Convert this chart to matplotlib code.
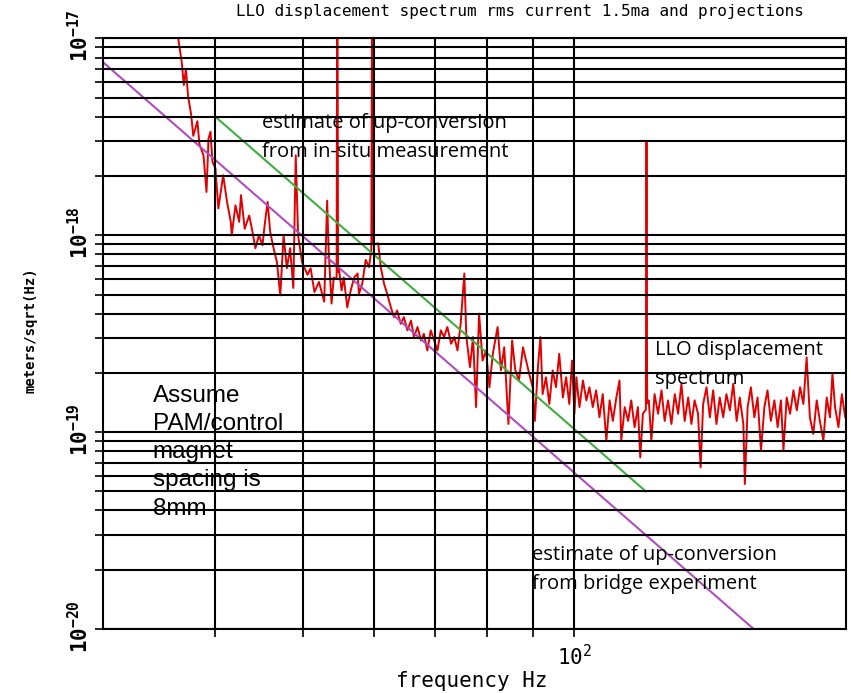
import matplotlib
matplotlib.use("Agg")
import numpy as np
import matplotlib.pyplot as plt
import matplotlib.transforms as mtransforms
from matplotlib.ticker import FixedLocator, FixedFormatter, LogLocator, NullFormatter

plt.rcParams.update({
    "mathtext.fontset": "custom",
    "mathtext.rm": "DejaVu Sans Mono",
    "mathtext.bf": "DejaVu Sans Mono:bold",
    "mathtext.it": "DejaVu Sans Mono:italic",
})

# LLO displacement spectrum (Hz, m/sqrt(Hz))
low_f = [36.2, 36.4, 36.7, 36.9, 37.1, 37.3, 37.6, 37.8, 38.2, 38.4, 38.8, 39.1,
         39.3, 39.5, 39.7, 40.0, 40.3, 40.8, 41.2, 41.6, 41.7, 42.1, 42.5, 42.7,
         43.1, 43.6, 43.9, 44.3, 44.7, 45.1, 45.4, 45.7, 46.0, 46.4, 46.8, 47.2,
         47.6, 48.0, 48.4, 48.8, 49.1, 49.4, 49.9, 50.6, 51.0, 51.5, 52.1, 52.8]
low_asd = [2.0e-17, 9.8e-18, 7.6e-18, 5.8e-18, 7.0e-18, 5.1e-18, 4.1e-18, 3.2e-18,
           3.8e-18, 2.9e-18, 2.55e-18, 1.66e-18, 3.1e-18, 3.36e-18, 2.36e-18, 2.19e-18,
           1.37e-18, 2.02e-18, 1.48e-18, 1.17e-18, 1.0e-18, 1.42e-18, 1.17e-18, 1.6e-18,
           1.08e-18, 1.26e-18, 1.08e-18, 8.6e-19, 1.0e-18, 8.9e-19, 1.17e-18, 1.48e-18,
           1.04e-18, 8.6e-19, 7.3e-19, 4.95e-19, 1.0e-18, 6.8e-19, 8.6e-19, 5.4e-19,
           2.55e-18, 1.0e-18, 7.3e-19, 6.3e-19, 6.8e-19, 5.15e-19, 5.8e-19, 4.6e-19]

mid_f = [53.2, 53.4, 53.8, 54.1, 54.5, 54.6, 54.7, 54.8, 55.2, 55.5, 56.0, 56.5,
         57.0, 57.5, 57.7, 58.2, 58.7, 59.2, 59.55, 59.7, 59.85, 60.6, 61.0,
         61.5, 62.0, 62.6, 63.1, 63.6, 64.2, 64.7, 65.3, 65.9, 66.4, 67.0, 67.6,
         68.1, 68.7, 69.3, 69.9, 70.5, 71.1, 71.7, 72.3, 73.0, 73.6, 74.2, 74.8,
         75.5, 75.9, 76.6, 77.2, 77.8, 78.4, 79.1]
mid_asd = [1.5e-18, 8.4e-19, 4.5e-19, 6.1e-19, 6.0e-19, 5.0e-17, 6.5e-19, 6.9e-19,
           5.25e-19, 6.1e-19, 4.3e-19, 5.25e-19, 6.1e-19, 6.4e-19, 5.05e-19, 5.7e-19,
           7.5e-19, 6.9e-19, 8.4e-19, 6.0e-17, 9.0e-19, 9.1e-19, 6.9e-19,
           5.7e-19, 5.05e-19, 4.3e-19, 3.84e-19, 4.15e-19, 3.55e-19, 3.84e-19, 3.29e-19,
           3.69e-19, 3.04e-19, 3.42e-19, 2.92e-19, 3.16e-19, 2.60e-19, 3.29e-19, 2.92e-19,
           2.60e-19, 3.29e-19, 3.04e-19, 3.42e-19, 2.81e-19, 3.04e-19, 2.60e-19, 3.55e-19,
           6.4e-19, 3.04e-19, 2.14e-19, 3.04e-19, 1.34e-19, 4.0e-19, 2.31e-19]

knee_f = [79.8, 80.5, 81.2, 82.2, 82.9, 83.6, 84.5, 85.3, 86.0, 86.8, 87.7, 88.4,
          89.1, 89.9, 90.4, 91.1, 91.7, 92.2, 93.0, 93.8, 94.6, 95.4, 96.2, 97.1,
          97.9, 98.7, 99.4, 100.0]
knee_asd = [2.60e-19, 1.69e-19, 2.50e-19, 3.42e-19, 2.06e-19, 2.70e-19, 1.10e-19, 2.92e-19,
            2.06e-19, 1.83e-19, 2.70e-19, 2.31e-19, 1.98e-19, 1.69e-19, 1.14e-19, 2.14e-19,
            3.04e-19, 1.56e-19, 1.90e-19, 1.39e-19, 2.06e-19, 1.69e-19, 2.50e-19, 1.50e-19,
            1.90e-19, 1.39e-19, 2.31e-19, 1.24e-19]

high_f = [100.5, 101.3, 102.2, 103.1, 103.9, 104.8, 105.7, 106.6, 107.5, 108.5,
          109.4, 110.3, 111.3, 112.2, 112.7, 113.7, 114.7, 115.6, 116.6, 117.6,
          118.3, 119.1, 120.0, 120.2, 120.4, 120.9, 121.7, 122.7, 123.8, 124.9,
          125.9, 127.0, 128.1, 129.2, 130.3, 131.4, 132.5, 133.7, 134.8, 135.9,
          137.1, 138.0, 138.9, 140.1, 141.3, 142.5, 143.7, 144.9, 146.2, 147.4,
          148.7, 150.0, 151.3, 152.5, 153.9, 154.5, 155.6, 156.9, 158.3, 159.6,
          161.0, 162.4, 163.7, 165.1, 166.6, 168.0, 169.4, 170.5, 171.9, 173.4,
          174.9, 176.4, 177.9, 179.4, 180.9, 182.4, 184.0, 185.6, 187.1, 188.8,
          190.4, 192.0, 193.2, 194.5, 196.2, 197.9, 199.6, 201.3]
high_asd = [1.90e-19, 1.34e-19, 1.83e-19, 1.45e-19, 1.69e-19, 1.34e-19, 1.63e-19, 1.19e-19, 1.56e-19, 9.05e-20,
            1.45e-19, 1.14e-19, 1.50e-19, 1.83e-19, 9.05e-20, 1.34e-19, 1.14e-19, 1.45e-19, 1.06e-19, 1.34e-19,
            7.44e-20, 1.24e-19, 1.30e-19, 3.0e-18, 1.40e-19, 1.45e-19, 9.05e-20, 1.56e-19, 1.24e-19, 1.63e-19,
            1.14e-19, 1.45e-19, 1.10e-19, 1.56e-19, 1.24e-19, 1.76e-19, 1.14e-19, 1.50e-19, 1.10e-19, 1.45e-19,
            1.24e-19, 6.62e-20, 1.39e-19, 1.69e-19, 1.19e-19, 1.63e-19, 1.10e-19, 1.50e-19, 1.19e-19, 1.56e-19,
            1.29e-19, 1.76e-19, 1.14e-19, 1.50e-19, 1.10e-19, 5.45e-20, 1.34e-19, 1.69e-19, 1.19e-19, 1.50e-19,
            8.05e-20, 1.34e-19, 1.63e-19, 1.14e-19, 1.45e-19, 1.06e-19, 1.45e-19, 8.05e-20, 1.50e-19, 1.24e-19,
            1.63e-19, 1.29e-19, 1.69e-19, 1.39e-19, 2.40e-19, 1.19e-19, 9.79e-20, 1.45e-19, 1.14e-19, 9.05e-20,
            1.50e-19, 1.19e-19, 1.98e-19, 1.34e-19, 1.06e-19, 1.56e-19, 1.19e-19, 1.34e-19]

# up-conversion estimates (straight lines on log-log)
insitu_f = [40, 120]
insitu_asd = [4.0e-18, 5.0e-20]
bridge_f = [30, 158]
bridge_asd = [7.6e-18, 1.0e-20]

y_decades = [1e-20, 1e-19, 1e-18, 1e-17]
x_minor = [40, 50, 60, 70, 80, 90]

mono = "DejaVu Sans Mono"

fig = plt.figure(figsize=(8.51, 6.93), dpi=100)
ax = fig.add_axes([0.1207, 0.0924, 0.8734, 0.8521])
ax.set_xscale("log")
ax.set_yscale("log")

spec_f = low_f + mid_f + knee_f + high_f
spec_asd = low_asd + mid_asd + knee_asd + high_asd
ax.plot(spec_f, spec_asd, color="#e30000", lw=1.4, zorder=2)
ax.plot(insitu_f, insitu_asd, color="#3fae3f", lw=1.5, zorder=2.1)
ax.plot(bridge_f, bridge_asd, color="#b04cc0", lw=1.5, zorder=2.1)

ax.set_xlim(30, 200)
ax.set_ylim(1e-20, 1e-17)

# ticks and grid
ax.xaxis.set_major_locator(FixedLocator([100]))
ax.xaxis.set_major_formatter(FixedFormatter([r"$10^2$"]))
ax.xaxis.set_minor_locator(FixedLocator(x_minor))
ax.xaxis.set_minor_formatter(NullFormatter())
ax.yaxis.set_major_locator(FixedLocator(y_decades))
ax.yaxis.set_major_formatter(NullFormatter())
ax.yaxis.set_minor_locator(LogLocator(base=10, subs=range(2, 10)))
ax.yaxis.set_minor_formatter(NullFormatter())
ax.tick_params(which="both", direction="out", length=6, width=1.2, color="black")
ax.tick_params(axis="x", labelsize=15, pad=5)
ax.set_axisbelow(False)
ax.grid(which="both", color="black", lw=1.5)
for sp in ax.spines.values():
    sp.set_linewidth(1.5)

# rotated y tick labels, "10" sitting just below each gridline
off = mtransforms.ScaledTranslation(-0.11, -0.24, fig.dpi_scale_trans)
for v in y_decades:
    ax.text(0, v, r"$\mathbf{10}^{\mathbf{%d}}$" % int(np.log10(v)),
            transform=ax.get_yaxis_transform() + off, rotation=90,
            rotation_mode="anchor", ha="left", va="bottom", fontsize=15,
            clip_on=False)

fig.text(520 / 851, 1 - 16 / 693,
         "LLO displacement spectrum rms current 1.5ma and projections",
         ha="center", va="baseline", family=mono, fontsize=11.5)
fig.text(472 / 851, 6 / 693, "frequency Hz", ha="center", va="baseline",
         family=mono, fontsize=15)
fig.text(30 / 851, 1 - 330 / 693, "meters/sqrt(Hz)", rotation=90,
         ha="center", va="center", family=mono, weight="bold", fontsize=10)

# annotations
note = dict(transform=ax.transAxes, ha="left", va="top", family="Open Sans",
            fontsize=14.5, linespacing=1.6, zorder=2.2)
ax.text(0.2143, 0.874, "estimate of up-conversion\nfrom in-situ measurement", **note)
ax.text(0.743, 0.489, "LLO displacement\nspectrum", **note)
ax.text(0.578, 0.142, "estimate of up-conversion\nfrom bridge experiment", **note)
ax.text(0.0673, 0.413, "Assume\nPAM/control\nmagnet\nspacing is\n8mm",
        transform=ax.transAxes, ha="left", va="top", family="Liberation Sans",
        fontsize=17.5, linespacing=1.36, zorder=2.2)

fig.savefig("out.png", dpi=100)
